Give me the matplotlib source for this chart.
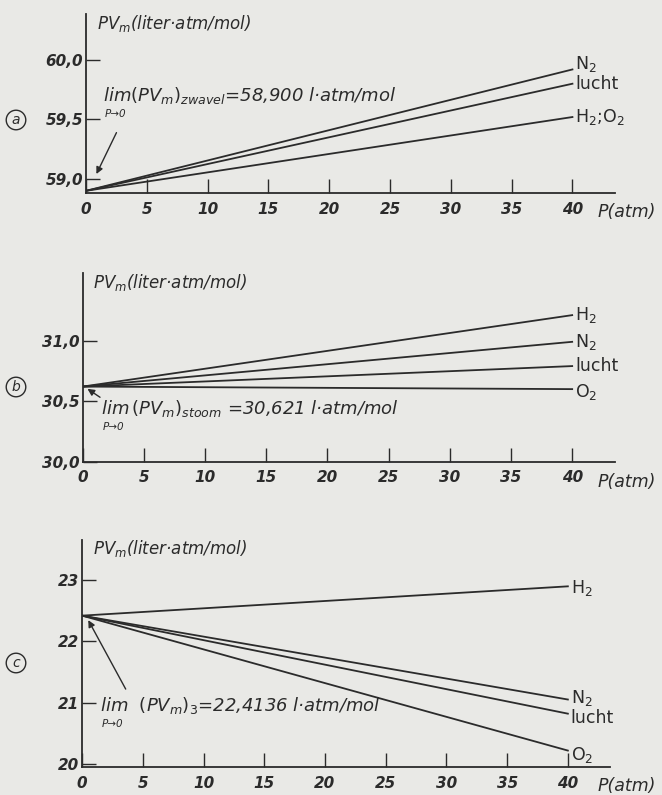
import matplotlib.pyplot as plt
import numpy as np

# druk (atm): begin- en eindpunt van de lijnen
p = [0, 40]
xticks = [0, 5, 10, 15, 20, 25, 30, 35, 40]

# a: zwavel
a_names = ['N$_2$', 'lucht', 'H$_2$;O$_2$']
a_start = 58.900
a_end = [59.92, 59.80, 59.52]
a_yticks = [59.0, 59.5, 60.0]
a_ylabels = ['59,0', '59,5', '60,0']

# b: stoom
b_names = ['H$_2$', 'N$_2$', 'lucht', 'O$_2$']
b_start = 30.621
b_end = [31.21, 30.99, 30.79, 30.60]
b_yticks = [30.0, 30.5, 31.0]
b_ylabels = ['30,0', '30,5', '31,0']

# c: punt 3
c_names = ['H$_2$', 'N$_2$', 'lucht', 'O$_2$']
c_start = 22.4136
c_end = [22.89, 21.05, 20.82, 20.22]
c_yticks = [20, 21, 22, 23]
c_ylabels = ['20', '21', '22', '23']

ink = '#2b2b2b'
paper = '#e9e9e6'

fig = plt.figure(figsize=(6.62, 7.95), dpi=100, facecolor=paper)


def panel(rect, start, ends, names, dys, yticks, ylabels, ylim, ylab_y):
    ax = fig.add_axes(rect)
    ax.set_facecolor(paper)
    for e, n, dy in zip(ends, names, dys):
        ax.plot(p, [start, e], color=ink, lw=1.3)
        ax.annotate(n, (p[1], e), xytext=(2, dy), textcoords='offset points',
                    va='center', ha='left', fontsize=12.5, color=ink)
    ax.set_xlim(0, 43.5)
    ax.set_ylim(*ylim)
    ax.set_xticks(xticks)
    ax.set_xticklabels([str(t) for t in xticks], style='italic', weight='bold')
    ax.set_yticks(yticks)
    ax.set_yticklabels(ylabels, style='italic', weight='bold')
    ax.tick_params(direction='in', length=10, width=1, colors=ink, labelsize=11)
    ax.tick_params(axis='y', pad=2)
    ax.tick_params(axis='x', pad=6)
    for s in ['top', 'right']:
        ax.spines[s].set_visible(False)
    for s in ['left', 'bottom']:
        ax.spines[s].set_color(ink)
        ax.spines[s].set_linewidth(1.3)
    ax.text(0.02, ylab_y, r'$PV_m$(liter·atm/mol)', transform=ax.transAxes,
            ha='left', va='center', fontsize=12, style='italic', color=ink)
    return ax


def limiet(ax, x, y, tekst):
    t = ax.text(x, y, tekst, ha='left', va='center', fontsize=13,
                style='italic', color=ink)
    ax.annotate('P→0', (x, y), xytext=(1, -13), textcoords='offset points',
                ha='left', va='center', fontsize=7.5, style='italic', color=ink)
    return t


ax_a = panel([0.130, 0.757, 0.799, 0.226], a_start, a_end, a_names, [4, 0, 0],
             a_yticks, a_ylabels, (58.88, 60.39), 0.944)
limiet(ax_a, 1.4, 59.7, r'$\mathit{lim}(PV_m)_{zwavel}$=58,900 l·atm/mol')
ax_a.annotate('', xy=(0.75, 59.02), xytext=(2.6, 59.41),
              arrowprops=dict(arrowstyle='-|>', color=ink, lw=1, mutation_scale=10))

ax_b = panel([0.125, 0.419, 0.804, 0.238], b_start, b_end, b_names, [0, 0, 0, -2],
             b_yticks, b_ylabels, (30.0, 31.56), 0.95)
limiet(ax_b, 1.5, 30.44, r'$\mathit{lim}\,(PV_m)_{stoom}$ =30,621 l·atm/mol')
ax_b.annotate('', xy=(0.2, 30.615), xytext=(1.6, 30.52),
              arrowprops=dict(arrowstyle='-|>', color=ink, lw=1, mutation_scale=10))

ax_c = panel([0.124, 0.035, 0.798, 0.2855], c_start, c_end, c_names, [-1, 1, -3, -3],
             c_yticks, c_ylabels, (19.95, 23.64), 0.965)
limiet(ax_c, 1.5, 20.95, r'$\mathit{lim}$  $(PV_m)_3$=22,4136 l·atm/mol')
ax_c.annotate('', xy=(0.4, 22.38), xytext=(3.7, 21.18),
              arrowprops=dict(arrowstyle='-|>', color=ink, lw=1, mutation_scale=10))

# P(atm) labels
for y in [212, 482, 786]:
    fig.text(598 / 662, 1 - y / 795, 'P(atm)', ha='left', va='center',
             fontsize=12.5, style='italic', color=ink)

# omcirkelde letters
for letter, y in zip(['a', 'b', 'c'], [120, 387, 663]):
    fig.text(16 / 662, 1 - y / 795, letter, ha='center', va='center',
             fontsize=10, style='italic', color=ink,
             bbox=dict(boxstyle='circle,pad=0.2', fc='none', ec=ink, lw=1))

fig.savefig('out.png', dpi=100, facecolor=paper)
